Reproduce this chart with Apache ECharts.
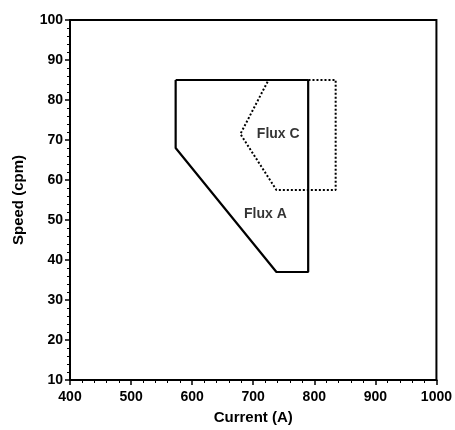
<!DOCTYPE html>
<html>
<head>
<meta charset="utf-8">
<script src="https://cdn.jsdelivr.net/npm/echarts@6/dist/echarts.min.js"></script>
<style>
  html, body { margin: 0; padding: 0; background: #fff; }
  #chart { width: 455px; height: 430px; }
</style>
</head>
<body>
<div id="chart"></div>
<script>
// operating regions, [current (A), speed (cpm)]
const fluxA = [[573, 85], [790, 85], [790, 37], [738, 37], [573, 68], [573, 85]];
const fluxC = [[725, 85], [835, 85], [835, 57.5], [738, 57.5], [679, 71.5], [725, 85]];
const regionLabels = [
  { name: 'Flux C', value: [741, 71.5] },
  { name: 'Flux A', value: [720, 51.5] }
];

const font = 'Liberation Sans, Arial, sans-serif';

const chart = echarts.init(document.getElementById('chart'));

const axisCommon = {
  axisLine: { show: true, lineStyle: { color: '#000', width: 2 } },
  axisTick: { show: true, length: 5, lineStyle: { color: '#000', width: 1.5 } },
  minorTick: { show: true, splitNumber: 5, length: 3, lineStyle: { color: '#000', width: 1 } },
  splitLine: { show: false },
  axisLabel: { color: '#000', fontFamily: font, fontSize: 14, fontWeight: 'bold', formatter: v => String(v) },
  nameTextStyle: { color: '#000', fontFamily: font, fontSize: 15, fontWeight: 'bold' },
  nameLocation: 'middle'
};

chart.setOption({
  animation: false,
  grid: { left: 70, right: 18, top: 20, bottom: 50, show: true, borderColor: '#000', borderWidth: 2 },
  xAxis: {
    ...axisCommon,
    type: 'value', min: 400, max: 1000, interval: 100,
    name: 'Current (A)', nameGap: 30,
    axisLabel: { ...axisCommon.axisLabel, margin: 10 }
  },
  yAxis: {
    ...axisCommon,
    type: 'value', min: 10, max: 100, interval: 10,
    name: 'Speed (cpm)', nameGap: 44,
    axisLabel: { ...axisCommon.axisLabel, margin: 7 }
  },
  series: [
    {
      type: 'line', data: fluxA, symbol: 'none',
      lineStyle: { color: '#000', width: 2.2 }
    },
    {
      type: 'line', data: fluxC, symbol: 'none',
      lineStyle: { color: '#000', width: 2, type: [2, 2] }
    },
    {
      type: 'scatter', data: regionLabels, symbolSize: 0,
      label: {
        show: true, position: 'inside', formatter: '{b}',
        color: '#000', fontFamily: font, fontSize: 14, fontWeight: 'bold'
      }
    }
  ]
});
</script>
</body>
</html>
